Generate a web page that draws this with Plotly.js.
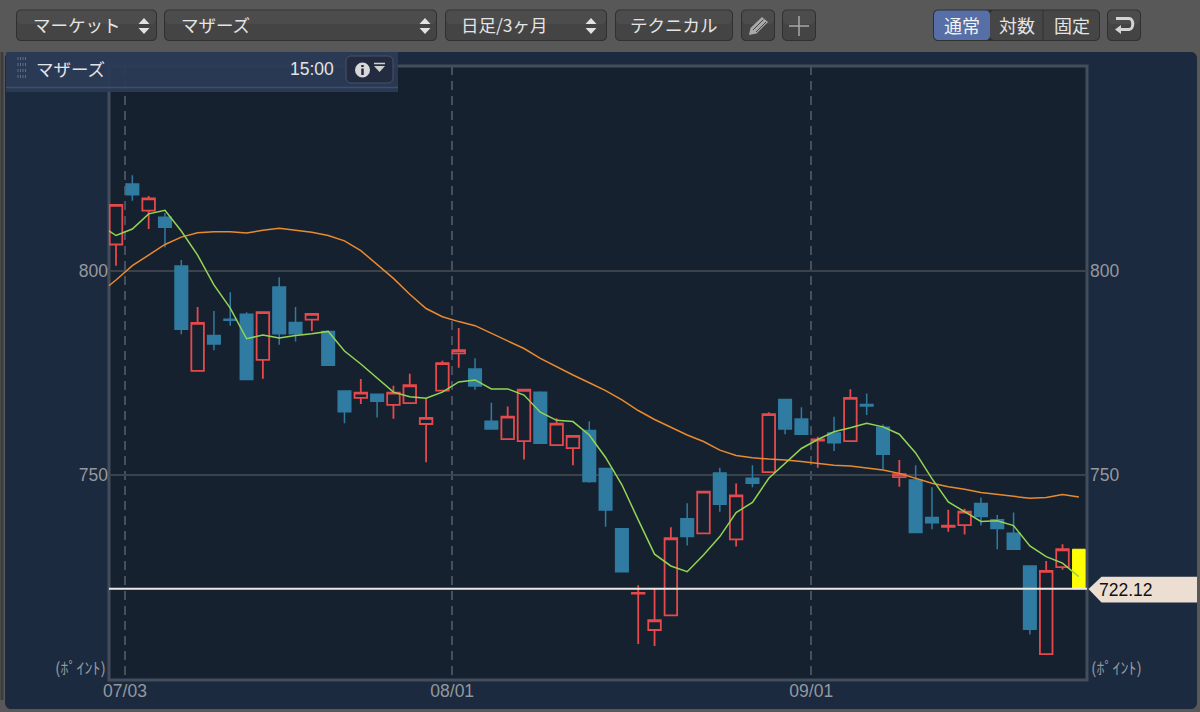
<!DOCTYPE html>
<html>
<head>
<meta charset="utf-8">
<script src="https://cdn.plot.ly/plotly-3.0.1.min.js"></script>
<style>html,body{margin:0;padding:0;background:#585858;overflow:hidden}#chart{width:1200px;height:712px}</style>
</head>
<body>
<div id="chart"></div>
<script>
var openPrices = [806.5,821.3,814.8,813.2,801.2,775.5,784.2,788.2,789.4,778.2,796.1,787.4,788.1,785.2,770.6,768.9,769.8,767.2,767.6,762.5,770.7,779.8,776.0,763.2,758.8,758.3,770.3,757.3,756.6,760.9,751.6,736.8,720.9,712.0,715.6,739.3,735.7,750.5,734.2,749.2,750.7,768.5,763.7,758.4,760.3,758.3,767.3,761.7,749.5,748.8,739.6,737.3,737.7,743.0,739.0,735.7,727.7,706.1,727.4];
var highPrices = [816.2,823.5,818.4,814.2,802.7,791.2,790.2,794.8,789.9,789.9,798.5,791.2,789.5,785.2,770.6,773.5,769.8,771.9,774.8,768.9,778.0,786.0,778.6,767.7,766.8,770.9,770.5,763.9,759.7,763.2,751.6,736.8,723.0,722.1,737.2,743.1,745.9,751.8,747.9,752.4,765.4,768.5,766.6,759.4,764.3,771.0,770.0,762.4,753.7,752.4,747.0,741.5,741.7,744.5,740.2,740.8,727.7,728.9,733.0];
var lowPrices = [801.3,817.2,810.3,805.8,784.5,775.5,780.6,786.6,773.2,773.6,781.9,782.7,785.3,776.9,762.7,767.4,764.1,763.8,767.6,753.1,770.7,776.3,770.9,761.3,758.8,753.8,757.8,757.3,752.4,748.1,737.3,726.3,708.6,708.1,715.6,732.7,735.7,741.0,732.5,747.0,750.7,760.0,760.0,751.8,755.9,758.3,764.7,751.4,747.1,735.9,736.7,736.1,735.4,737.6,731.8,731.8,710.9,706.1,726.8];
var closePrices = [816.2,818.7,817.8,810.7,785.7,787.3,782.1,787.9,773.4,789.9,784.6,784.6,789.5,776.9,765.5,770.2,768.1,770.2,772.0,764.0,777.4,780.6,771.8,761.3,764.3,770.9,757.8,762.6,759.6,748.4,741.4,726.3,721.1,714.4,734.5,734.9,745.9,742.8,745.0,748.0,764.9,761.3,760.0,758.7,757.9,768.9,766.9,755.1,750.2,735.9,738.3,737.6,741.0,739.8,736.9,731.8,712.2,726.5,731.8];
var todayOpen = [722.12];
var todayHigh = [731.8];
var todayLow = [722.12];
var todayClose = [731.8];
var maShort = [811.3,808.7,810.3,814.0,814.9,809.8,803.9,796.6,790.9,783.4,784.3,783.6,784.2,784.6,785.2,780.4,777.2,773.7,770.3,769.2,768.8,770.3,772.8,773.3,771.1,771.1,769.6,765.4,763.4,763.1,759.8,754.3,747.6,739.0,730.6,727.7,726.3,730.4,734.9,740.8,743.3,749.2,752.9,756.5,758.7,760.6,761.6,762.7,761.8,760.0,755.4,749.1,743.4,740.9,738.6,738.8,737.6,732.6,730.0,728.4,725.1];
var maLong = [794.6,797.8,801.3,803.9,806.5,808.3,809.4,809.6,809.6,809.3,810.0,810.5,810.0,809.5,808.7,807.4,805.0,801.6,798.2,794.3,790.8,788.8,787.6,786.6,784.7,782.9,781.0,778.6,776.5,774.5,772.6,770.7,768.4,765.8,763.6,761.6,759.8,758.2,756.1,754.8,754.2,753.9,753.7,753.3,752.9,752.4,752.2,751.7,751.2,750.4,749.2,748.0,747.1,746.5,745.7,745.2,744.8,744.3,744.5,745.2,744.6];
var monthTickPositions = [0.55, 20.6, 42.6];
var monthTickLabels = ['07/03', '08/01', '09/01'];
var priceTicks = [800, 750];
var lastPrice = 722.12;
var lastPriceLabel = '722.12';
var indexName = 'マザーズ';
var timeLabel = '15:00';
var unitLabel = '(ﾎﾟｲﾝﾄ)';
var toolbarLabels = ['マーケット', 'マザーズ', '日足/3ヶ月', 'テクニカル'];
var scaleLabels = ['通常', '対数', '固定'];

var W = 1200, H = 712, L = 109, R = 1087, T = 66, B = 680;
function px(x) { return (x - L) / (R - L); }
function py(y) { return (B - y) / (B - T); }
function pt(x, y) { return px(x) + ',' + py(y); }
function poly(points) { return 'M' + points.map(function (p) { return pt(p[0], p[1]); }).join('L') + 'Z'; }
function round(x0, y0, x1, y1, r) {
  var k = r * 0.45;
  function C(a, b, c, d, e, f) { return 'C' + pt(a, b) + ' ' + pt(c, d) + ' ' + pt(e, f); }
  return 'M' + pt(x0 + r, y0) + 'L' + pt(x1 - r, y0) + C(x1 - k, y0, x1, y0 + k, x1, y0 + r) +
    'L' + pt(x1, y1 - r) + C(x1, y1 - k, x1 - k, y1, x1 - r, y1) +
    'L' + pt(x0 + r, y1) + C(x0 + k, y1, x0, y1 - k, x0, y1 - r) +
    'L' + pt(x0, y0 + r) + C(x0, y0 + k, x0 + k, y0, x0 + r, y0) + 'Z';
}
var shapes = [], annotations = [];
function pathShape(d, fill, stroke, sw, layer) {
  shapes.push({ type: 'path', xref: 'paper', yref: 'paper', path: d, fillcolor: fill || 'rgba(0,0,0,0)',
    line: { color: stroke || 'rgba(0,0,0,0)', width: sw || 0 }, layer: layer || 'above' });
}
function lineShape(x0, y0, x1, y1, color, w, dash, layer) {
  shapes.push({ type: 'line', xref: 'paper', yref: 'paper', x0: px(x0), y0: py(y0), x1: px(x1), y1: py(y1),
    line: { color: color, width: w, dash: dash || 'solid' }, layer: layer || 'above' });
}
function label(text, x, y, size, color, anchor, family) {
  annotations.push({ xref: 'paper', yref: 'paper', x: px(x), y: py(y), text: text, showarrow: false,
    xanchor: anchor || 'left', yanchor: 'middle', borderpad: 0, borderwidth: 0,
    font: { size: size, color: color, family: family || '"Noto Sans CJK JP", sans-serif' } });
}
function button(x0, x1) {
  pathShape(round(x0, 9.5, x1, 41, 5), '#303030', null, 0);
  pathShape(round(x0 + 1, 10.5, x1 - 1, 40, 4), '#444444', null, 0);
  pathShape(round(x0 + 1, 10.5, x1 - 1, 24, 4), '#4c4c4c', null, 0);
}
function updown(x) {
  pathShape(poly([[x - 5.5, 24], [x + 5.5, 24], [x, 18]]), '#e2e2e2');
  pathShape(poly([[x - 5.5, 28], [x + 5.5, 28], [x, 34]]), '#e2e2e2');
}

// outer frame and toolbar band
pathShape('M' + pt(0, 0) + 'L' + pt(W, 0) + 'L' + pt(W, H) + 'L' + pt(0, H) + 'Z' + round(5, 52, 1197, 709, 6), '#585858', null, 0, 'below');
lineShape(2, 52, 2, 700, '#3c3c3c', 3, 'solid', 'below');
// plot frame
shapes.push({ type: 'rect', xref: 'paper', yref: 'paper', x0: 0, x1: 1, y0: 0, y1: 1, fillcolor: 'rgba(0,0,0,0)', line: { color: '#434d5c', width: 3 }, layer: 'below' });

// selector buttons
var tbSize = 17.5, tbText = '#e4e4e4';
button(16, 157); updown(144); label(toolbarLabels[0], 33, 25, tbSize, tbText);
button(164, 437); updown(425); label(toolbarLabels[1], 181, 25, tbSize, tbText);
button(445, 607); updown(591); label(toolbarLabels[2], 461, 25, tbSize, tbText);
button(615, 733); label(toolbarLabels[3], 630, 25, tbSize, tbText);
button(741, 775);
pathShape(poly([[749, 35], [750.5, 28], [762, 17], [768, 22], [756.5, 33.5]]), '#a8a8a8');
lineShape(753, 30, 763.5, 19.5, '#444444', 1);
lineShape(756, 32, 766, 22, '#444444', 1);
button(782, 816);
lineShape(799, 16, 799, 36, '#a8a8a8', 1.5);
lineShape(789, 26, 809, 26, '#a8a8a8', 1.5);

// scale segmented control
pathShape(round(933, 9.5, 1100, 41, 5), '#303030');
pathShape(round(990, 10.5, 1099, 40, 4), '#464646');
pathShape(round(934, 10.5, 990, 40, 4), '#566fa6');
lineShape(1043, 10, 1043, 41, '#333333', 1);
label(scaleLabels[0], 961.5, 25, 18, '#f2f2f2', 'center');
label(scaleLabels[1], 1016.5, 25, 18, tbText, 'center');
label(scaleLabels[2], 1071.5, 25, 18, tbText, 'center');
button(1107, 1141);
pathShape('M' + pt(1116, 18.5) + 'L' + pt(1129, 18.5) + 'C' + pt(1134, 18.5) + ' ' + pt(1134, 29.5) + ' ' + pt(1129, 29.5) + 'L' + pt(1120, 29.5), null, '#d4d4d4', 3);
pathShape(poly([[1115, 29.5], [1121, 25], [1121, 34]]), '#d4d4d4');

// index title bar
pathShape('M' + pt(6, 52) + 'L' + pt(398, 52) + 'L' + pt(398, 92) + 'L' + pt(6, 92) + 'Z', 'rgba(44,58,86,0.94)');
lineShape(6, 87.5, 398, 87.5, 'rgba(70,84,110,0.8)', 1.5);
[18, 20.5, 23, 25.5].forEach(function (x) { lineShape(x, 57, x, 80, '#626e85', 1, 'dot'); });
label(indexName, 36, 68, tbSize, tbText);
label(timeLabel, 334, 69, 17.5, tbText, 'right', '"Liberation Sans", Arial, sans-serif');
pathShape(round(346, 56, 393, 83, 5), '#232b40', '#4a5266', 1);
shapes.push({ type: 'circle', xref: 'paper', yref: 'paper', x0: px(355), y0: py(62.5), x1: px(370), y1: py(77.5), fillcolor: '#d8d8d8', line: { width: 0 }, layer: 'above' });
lineShape(362.5, 65, 362.5, 67, '#232b40', 2.5);
lineShape(362.5, 68.5, 362.5, 75, '#232b40', 2.5);
lineShape(374, 63.5, 385, 63.5, '#d0d0d0', 1.5);
pathShape(poly([[374, 66], [385, 66], [379.5, 72]]), '#d0d0d0');

// last-price line and flag
shapes.push({ type: 'line', xref: 'paper', yref: 'y', x0: 0, x1: 1, y0: lastPrice, y1: lastPrice, line: { color: '#ece9e2', width: 2 }, layer: 'above' });
pathShape(poly([[1088.5, 589], [1101.5, 576.7], [1197, 576.7], [1197, 602.5], [1101.5, 602.5]]), '#ecdfd1');
label(lastPriceLabel, 1099, 590, 17.5, '#111111', 'left', '"Liberation Sans", Arial, sans-serif');

// right axis labels and unit labels
priceTicks.forEach(function (v) {
  annotations.push({ xref: 'paper', yref: 'y', x: 1, y: v, xanchor: 'left', yanchor: 'middle', xshift: 1, showarrow: false, text: String(v),
    font: { size: 17.5, color: '#95989d', family: '"Liberation Sans", Arial, sans-serif' } });
});
label(unitLabel, 80, 667, 16, '#95989d', 'center');
label(unitLabel, 1116, 667, 16, '#95989d', 'center');

var sessions = openPrices.map(function (_, i) { return i; });
var maSessions = maShort.map(function (_, i) { return i - 1; });
var redLine = '#e5494b', blueLine = '#2f7ba1';

var traces = [
  { type: 'candlestick', x: sessions, open: openPrices, high: highPrices, low: lowPrices, close: closePrices,
    increasing: { line: { color: redLine, width: 1.8 }, fillcolor: '#16212f' },
    decreasing: { line: { color: blueLine, width: 1.5 }, fillcolor: blueLine },
    whiskerwidth: 0, hoverinfo: 'skip', showlegend: false, name: 'candles' },
  { type: 'candlestick', x: [59], open: todayOpen, high: todayHigh, low: todayLow, close: todayClose,
    increasing: { line: { color: '#ffff00', width: 1 }, fillcolor: '#ffff00' },
    decreasing: { line: { color: '#ffff00', width: 1 }, fillcolor: '#ffff00' },
    whiskerwidth: 0, hoverinfo: 'skip', showlegend: false, name: 'today' },
  { type: 'scatter', mode: 'lines', x: maSessions, y: maLong, line: { color: '#e98a2e', width: 1.5 }, hoverinfo: 'skip', showlegend: false, name: 'MA long' },
  { type: 'scatter', mode: 'lines', x: maSessions, y: maShort, line: { color: '#93d553', width: 1.5 }, hoverinfo: 'skip', showlegend: false, name: 'MA short' }
];

var tickFont = { size: 17.5, color: '#95989d', family: '"Liberation Sans", Arial, sans-serif' };
var layout = {
  width: W, height: H,
  margin: { l: L, r: W - R, t: T, b: H - B, pad: 0 },
  paper_bgcolor: '#1b2a3f', plot_bgcolor: '#16212f',
  showlegend: false, boxgap: 0.23, boxgroupgap: 0, dragmode: false, hovermode: false,
  xaxis: { type: 'linear', range: [-0.43, 59.5], rangeslider: { visible: false }, tickmode: 'array',
    tickvals: monthTickPositions, ticktext: monthTickLabels, ticks: '', ticklen: 0, ticklabelstandoff: -2,
    showgrid: true, gridcolor: '#454f5e', griddash: '9px,6px', gridwidth: 1.5, zeroline: false, showline: false,
    tickfont: tickFont },
  yaxis: { type: 'linear', range: [699.75, 850.25], tickmode: 'array', tickvals: priceTicks,
    ticktext: priceTicks.map(String), ticks: '', ticklen: 0, showgrid: true, gridcolor: '#3c424c', gridwidth: 1.5, zeroline: false, showline: false,
    tickfont: tickFont },
  shapes: shapes, annotations: annotations
};
Plotly.newPlot('chart', traces, layout, { displayModeBar: false, staticPlot: true, responsive: false });
</script>
</body>
</html>
